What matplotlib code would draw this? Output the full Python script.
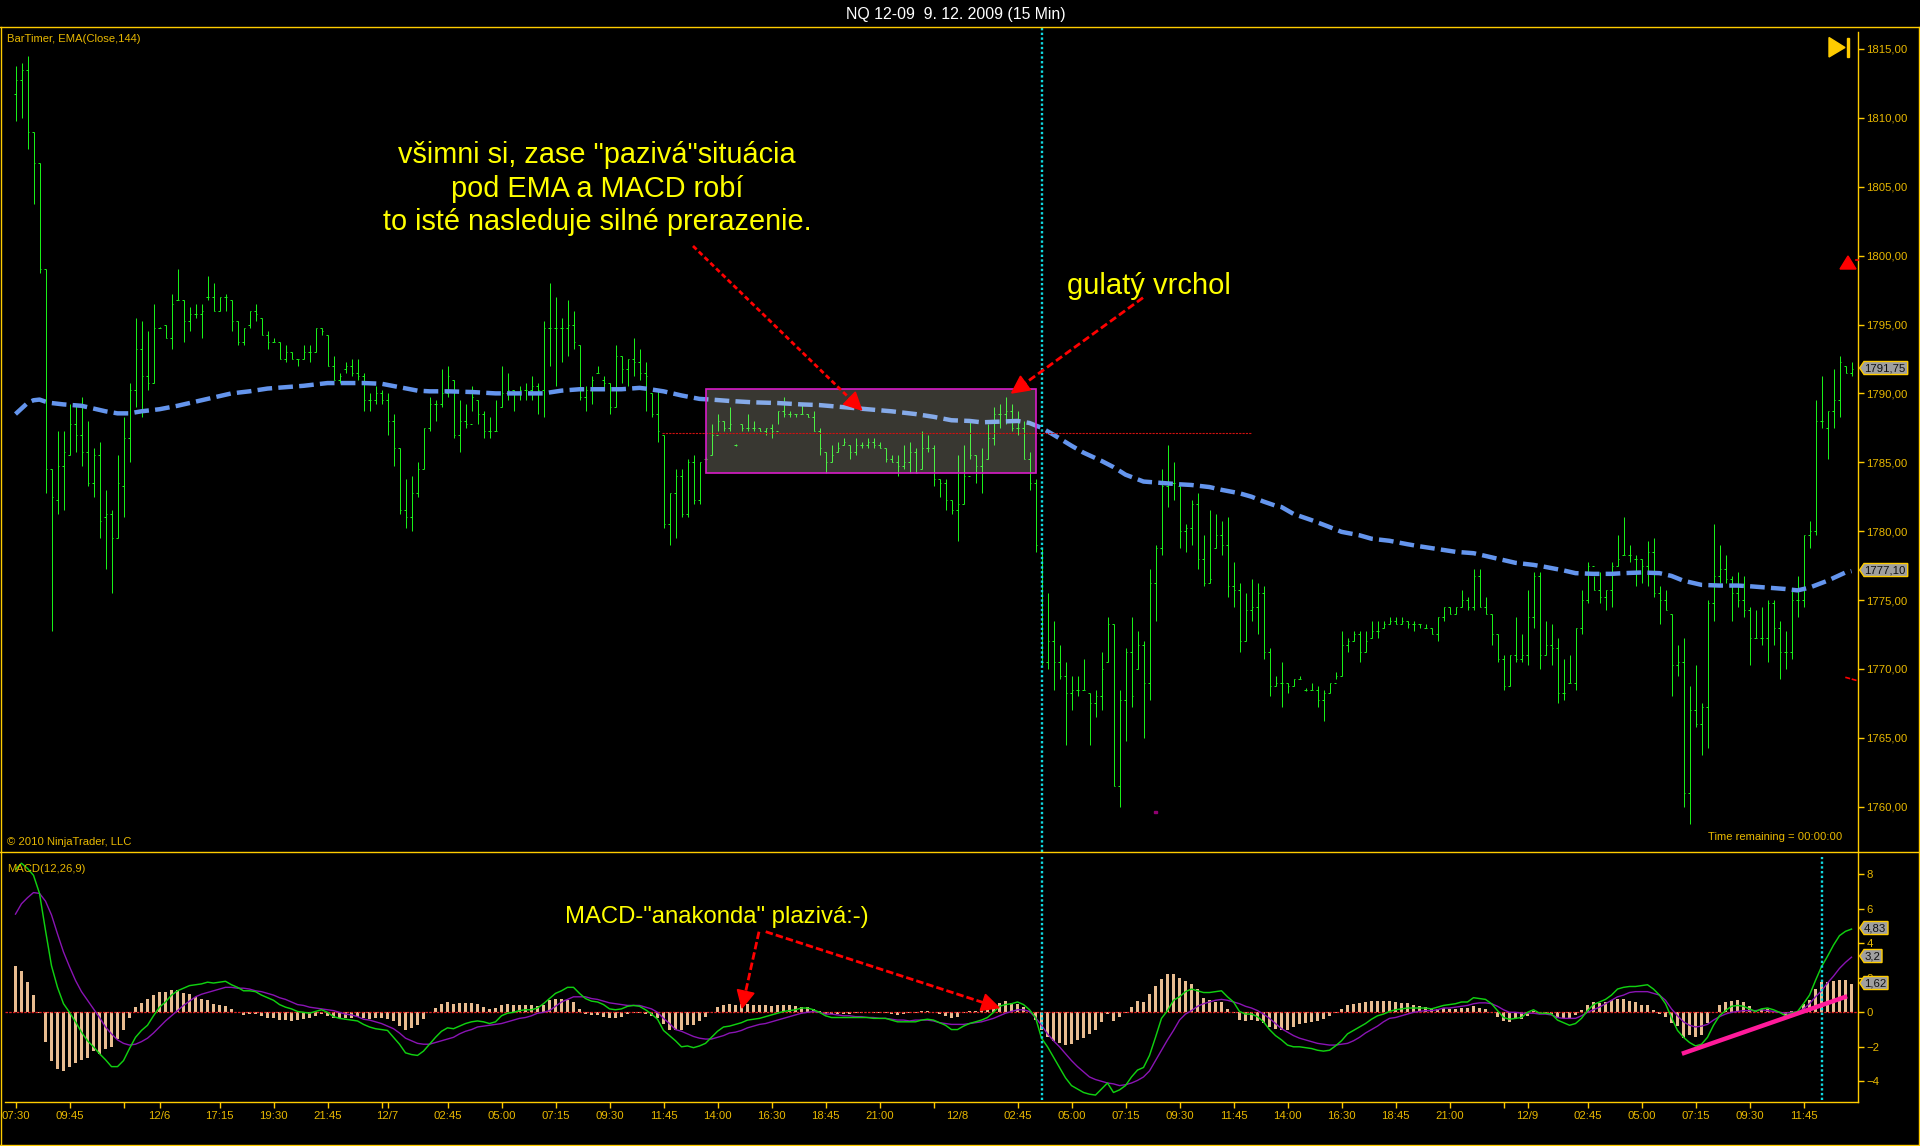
import matplotlib
matplotlib.use("Agg")
import matplotlib.pyplot as plt
from matplotlib.patches import Polygon, Rectangle
from matplotlib.lines import Line2D
import numpy as np

plt.rcParams['font.family'] = ['Liberation Sans', 'DejaVu Sans']

# ******** price bars, one per 15 min ********
highs = [
    1813.75,1814,1814.5,1809,1806.75,1799,1784.5,1787.25,1787.25,1789.25,
    1789.25,1789.75,1788,1786,1786.5,1783,1781.5,1785.5,1788.25,1790.75,
    1795.5,1795.25,1794.5,1796.5,1794.85,1795,1797.25,1799,1796.75,1796.25,
    1796.5,1796.5,1798.5,1798,1797,1797.25,1796.75,1795.25,1794.75,1796,
    1796.5,1795.5,1794.5,1794,1793.75,1793.5,1793,1792.5,1793.5,1793.5,
    1794.75,1794.75,1794.25,1792.75,1791.5,1792.25,1792.5,1792.5,1791.5,1790,
    1790.5,1790.25,1790,1788.5,1786,1783.75,1784,1785,1787.5,1789.75,
    1789.5,1791.75,1792,1791,1789.5,1789.25,1790.5,1789.5,1788.75,1788.25,
    1789.5,1792,1791.5,1790.25,1790.5,1790.75,1791.25,1790.75,1795.25,1798,
    1797,1795.5,1796.75,1796,1793.5,1790.5,1791.25,1792,1791.25,1790.75,
    1793.5,1792.75,1792.5,1794,1793.25,1792.25,1790,1790.25,1787,1782.75,
    1784.5,1784.5,1785.25,1785.5,1785,1785.35,1787.75,1788.5,1788,1789,
    1786.35,1787.75,1788.5,1788,1787.5,1787.5,1787.75,1788.75,1789.75,1788.75,
    1788.5,1789.25,1788.5,1788.75,1787.5,1785.75,1786.25,1786.5,1786.75,1786.25,
    1786.75,1786.5,1786.75,1786.75,1786.5,1786,1785.5,1785.5,1786.25,1786.5,
    1786,1787.25,1787,1786.25,1783.75,1783.75,1782.25,1785.5,1786.25,1788,
    1785.5,1786,1787.75,1789,1789.25,1789.75,1789.25,1788.75,1788,1785.75,
    1783.75,1778.75,1775.5,1773.5,1771.75,1770.5,1769.5,1769.5,1770.75,1768.25,
    1768.5,1771.25,1773.75,1773.25,1768.5,1771.5,1773.75,1772.75,1772,1777.25,
    1779,1784.5,1786.25,1785,1783.25,1780.5,1782.25,1782.75,1779.75,1781.5,
    1781.25,1780.75,1781,1777.75,1776.25,1775.5,1776.5,1776.25,1776,1771.5,
    1769.5,1770.5,1769,1769.25,1769.5,1768.6,1769,1768.75,1768.5,1769,
    1769.75,1772.75,1772.25,1772.75,1772.75,1772.75,1773.5,1773.5,1773.5,1773.75,
    1773.75,1773.75,1773.5,1773.5,1773.25,1773.25,1773,1773.75,1774.5,1774.5,
    1774.5,1775.75,1775.25,1777.25,1777.25,1775.25,1774,1772.5,1771,1771,
    1773.75,1772.5,1775.75,1777,1777,1773.5,1773.25,1772.25,1770.75,1771,
    1773,1775.75,1777.75,1776.75,1777,1775.75,1777.75,1779.75,1781,1779,
    1778.25,1778,1779.25,1779.5,1776,1775.75,1774,1771.75,1772.25,1768.75,
    1770.25,1767.5,1775,1780.5,1779,1778.25,1776.75,1777,1776.75,1774.5,
    1774.25,1774.5,1775,1775,1773.5,1772.75,1775.75,1776.75,1779.75,1780.75,
    1789.5,1791.25,1788.75,1791.75,1792.75,1792,1792.25,
]
lows = [
    1809.75,1810,1807.75,1803.75,1798.75,1782.75,1772.75,1781.25,1781.5,1785.5,
    1785.75,1784.75,1783.25,1782.5,1779.5,1777.25,1775.5,1779.5,1781,1785,
    1789,1788.25,1790.25,1790.75,1794.75,1794,1793.25,1796.75,1793.75,1794.5,
    1795.5,1794,1796.75,1796,1796,1796,1794.5,1793.5,1793.5,1794.75,
    1795.25,1794.25,1793.25,1793.75,1792.5,1792.25,1792.5,1792,1792.5,1792.25,
    1793,1794.25,1792,1791,1790.75,1791.5,1791.25,1791,1788.75,1788.75,
    1789.25,1789.25,1787,1784.75,1781.25,1780.25,1780,1782.5,1784.5,1787.25,
    1788,1789,1789.75,1786.75,1785.75,1787.5,1788.75,1787.75,1786.75,1786.75,
    1787.25,1789,1789.5,1788.75,1789.5,1789.5,1789.5,1788.5,1788.25,1792,
    1790.5,1792.25,1792.75,1793.25,1789.5,1788.75,1789.25,1791.5,1790.25,1788.5,
    1789,1790.75,1790.5,1791.25,1791,1788.75,1788.25,1786.5,1780.25,1779,
    1779.5,1781,1781,1782,1782,1785.15,1785.5,1787.25,1787.25,1787.25,
    1786.15,1787.25,1787.25,1787.25,1787.25,1787,1786.75,1787.75,1788.25,1788.25,
    1788.25,1788.5,1788.25,1787.25,1785.5,1784.25,1785,1785.75,1786.25,1785.25,
    1785.5,1786,1786,1786,1786,1785,1785,1784,1784.5,1784.25,
    1784.25,1784.5,1785.75,1783.25,1782.5,1781.5,1781.25,1779.25,1782,1785.25,
    1783.5,1782.75,1785.25,1786.25,1787.5,1787.75,1787.25,1787,1785.25,1783,
    1778.5,1770.25,1770,1768.5,1769.25,1764.5,1767,1768,1768.5,1764.5,
    1766.5,1767,1770.5,1761.5,1760,1764.75,1767.25,1770,1765,1767.75,
    1773.5,1778.25,1781.75,1782.25,1778.75,1778.5,1779,1777.25,1776,1776.25,
    1778.75,1778.25,1775.25,1774.5,1771.25,1772,1773.5,1772.5,1770.75,1768,
    1768.75,1767.25,1768.25,1768.75,1769.25,1768.4,1768.5,1767.25,1766.25,1768.25,
    1769.25,1769.5,1771.25,1772,1770.5,1771.25,1772.25,1772.25,1773,1773.25,
    1773.25,1773.25,1773,1772.75,1773,1773,1772.5,1772,1773.5,1774,
    1774,1774.5,1774.25,1774.25,1774.5,1774,1771.75,1770.5,1768.5,1768.75,
    1770.5,1770.5,1770.25,1773,1770,1771,1770.25,1767.5,1767.75,1769,
    1768.5,1772.5,1774.75,1775.75,1774.75,1774.25,1774.5,1777.5,1778.25,1777.75,
    1776,1776.25,1776,1775.25,1773.25,1774.25,1768,1769.5,1760,1758.75,
    1765.75,1763.75,1764.25,1773.5,1776.25,1776.25,1773.5,1774.5,1773.75,1770.25,
    1772.25,1771.75,1770.5,1771.75,1769.25,1770,1770.75,1773.75,1774.5,1778.75,
    1779.75,1787.5,1785.25,1787.5,1788.25,1791.5,1791.25,
]
closes = [
    1812.75,1813.5,1809,1806.75,1799,1784.5,1782.5,1784.75,1785.75,1787.75,
    1787,1785.75,1783.5,1785.5,1780.75,1781.25,1779.5,1783.5,1786.75,1790.25,
    1793.25,1791.25,1790.75,1794.75,1794.75,1794,1796.5,1796.75,1795.25,1795.75,
    1795.75,1796,1797,1796,1797,1797,1795.25,1793.75,1794.75,1796,
    1795.75,1794.25,1793.75,1793.75,1792.5,1793,1792.5,1792.5,1793,1793,
    1794.75,1794.5,1792,1791,1791.25,1792,1791.5,1791.25,1789.5,1789.5,
    1790,1789.5,1788,1786,1781.5,1781,1782.75,1784.5,1787.5,1789.25,
    1789.25,1790,1791.25,1787,1788,1787.75,1789.75,1788.5,1787.25,1787.25,
    1787.25,1790,1790.25,1790,1790.25,1790.25,1790.5,1790.25,1794.75,1794.75,
    1794.75,1794.75,1795,1793.75,1789.75,1790.25,1791,1791.5,1790.75,1789,
    1792.75,1791.75,1792.5,1792.25,1791.5,1791.25,1788.5,1787.25,1780.5,1782.75,
    1784,1781.25,1785,1782.25,1785,1785.25,1787,1788,1787.5,1787.75,
    1786.25,1787.5,1787.5,1787.5,1787.25,1787.5,1787.25,1788.75,1788.5,1788.5,
    1788.5,1788.5,1788.25,1787.25,1786,1785,1785.5,1786,1786.5,1785.75,
    1786.25,1786.25,1786.5,1786.25,1786,1785.25,1785,1784.75,1785,1785.75,
    1784.25,1786,1786,1783.75,1783.5,1782.25,1781.5,1782,1784,1785.5,
    1784.75,1784.25,1786.75,1788.5,1788.5,1788.75,1787.5,1787.5,1785.25,1783.5,
    1779,1770.5,1772,1770.5,1769.5,1768.25,1768.5,1768.5,1768.5,1767.5,
    1768,1770,1773.25,1761.5,1767.75,1771.25,1768,1771.75,1769,1776.25,
    1778.75,1783.25,1783.5,1783.5,1780,1780.25,1782,1778,1776.25,1776.5,
    1779.75,1779,1776,1775.75,1772,1774.25,1774.5,1775.5,1771.25,1768.75,
    1769,1769,1768.75,1769.25,1769.25,1768.5,1768.5,1767.75,1768.25,1769,
    1769.5,1771.75,1772,1772.5,1771.25,1772,1772.75,1772.75,1773.25,1773.5,
    1773.25,1773.5,1773.25,1773.25,1773.25,1773,1772.5,1773.75,1774.5,1774,
    1774.5,1775,1774.5,1776.75,1774.5,1774,1772.5,1770.75,1768.75,1771,
    1770.75,1771,1773.75,1776.75,1771,1771.75,1771.5,1768.25,1768.25,1769,
    1773,1775,1777.5,1775.75,1775.25,1775.75,1777.5,1778,1778.25,1778.25,
    1778,1777.5,1778.5,1775.5,1775,1774.25,1770.25,1770.5,1761,1767,
    1766,1767.25,1774.75,1776.75,1777.25,1776.5,1775.5,1775,1774.25,1772.25,
    1772.25,1772.25,1774.75,1773,1771.25,1771.25,1775,1775,1779.75,1780,
    1788,1788,1788.75,1789.5,1792.25,1791.5,1791.75,
]
opens = [
    1811.75,1812.75,1813.5,1809,1806.75,1799,1784.5,1782.25,1784.75,1785.5,
    1787.75,1787,1785.75,1783.5,1785.5,1781,1781.25,1779.5,1783.25,1786.75,
    1790.25,1793.25,1791.25,1790.75,1794.75,1795,1794,1796.75,1796.75,1795.25,
    1795.75,1795.75,1797,1797,1796,1797,1796.75,1795.25,1793.75,1795,
    1796,1795.5,1794.25,1793.75,1793.75,1792.5,1793,1792.5,1792.5,1793,
    1793,1794.75,1794.25,1792,1791,1791.75,1792,1791.5,1791.25,1789.5,
    1789.5,1790,1789.5,1788,1786,1781.5,1781,1782.75,1784.5,1787.5,
    1789.25,1789.25,1790,1791,1787,1788,1787.75,1789.5,1788.5,1787.25,
    1787.25,1789,1790,1790.25,1790,1790.25,1790.25,1790.5,1790.25,1794.75,
    1794.75,1794.75,1794.75,1795,1793.5,1789.75,1790.25,1791.5,1791,1790.75,
    1789,1792.75,1791.75,1792.5,1792.25,1791.5,1790,1788.5,1787,1780.5,
    1782.75,1784,1781.25,1785,1782.25,1785.25,1785.5,1787,1788,1787.5,
    1786.25,1787.75,1787.5,1787.5,1787.5,1787.25,1787.5,1787.25,1788.75,1788.5,
    1788.5,1788.5,1788.5,1788.25,1787.25,1785.75,1785,1785.75,1786.25,1786.25,
    1785.75,1786.25,1786.25,1786.5,1786.25,1786,1785.25,1785,1784.75,1785,
    1785.75,1784.5,1786,1786,1783.75,1783.5,1782.25,1781.5,1782,1784,
    1785.5,1784.75,1785.25,1786.75,1788.5,1788.5,1788.75,1787.5,1787.5,1785.25,
    1783.5,1778.75,1770.5,1772,1770.5,1769.5,1768.25,1768.5,1768.5,1768.25,
    1767.5,1768,1770.5,1773.25,1761.5,1767.75,1771.25,1770,1771.75,1769,
    1776.25,1778.75,1783.25,1783.5,1783.25,1780,1780.25,1782,1778,1776.25,
    1778.75,1779.75,1779,1776,1775.75,1772,1774.25,1774.5,1775.5,1771.25,
    1768.75,1769,1769,1768.75,1769.25,1768.5,1768.5,1768.5,1767.75,1768.25,
    1769,1769.5,1771.75,1772,1772.5,1771.25,1772.25,1772.75,1773,1773.25,
    1773.5,1773.25,1773.5,1773.25,1773.25,1773,1773,1772.5,1773.75,1774.5,
    1774,1774.5,1775,1774.5,1776.75,1774.5,1774,1772.5,1770.75,1768.75,
    1771,1770.75,1771,1773.75,1776.75,1771,1771.75,1771.5,1768.25,1769,
    1769,1773,1775,1777.5,1775.75,1775.25,1775.75,1777.5,1778.25,1778.25,
    1778,1778,1777.5,1778.5,1775.5,1775,1774,1770.25,1770.5,1761,
    1767,1766,1767.25,1774.75,1776.75,1777.25,1776.5,1775.5,1775,1774.25,
    1772.25,1772.25,1772.25,1774.75,1773,1771.25,1771.25,1775,1775,1779.75,
    1780,1788,1787.5,1788.75,1789.5,1792,1791.5,
]

# EMA(Close,144) read at these bars
ema_bars = [0,1,2,3,4,5,6,8,11,13,15,17,19,21,24,27,30,33,36,39,42,45,48,52,55,58,61,64,67,69,72,76,80,83,88,91,94,98,101,104,
            105,108,111,114,116,119,123,127,131,134,138,142,146,150,153,156,159,161,164,167,169,171,173,176,178,181,183,185,188,191,
            194,196,199,201,204,206,208,210,211,213,216,219,221,224,226,229,232,234,237,240,243,245,248,250,253,255,258,260,263,266,
            268,271,274,276,278,281,284,287,289,292,295,297,299,302,305,306]
ema_vals = [1788.5,1788.9,1789.3,1789.5,1789.55,1789.4,1789.3,1789.2,1789.1,1788.9,1788.7,1788.55,1788.55,1788.7,1788.85,1789.1,1789.4,1789.7,1790,1790.15,
            1790.35,1790.45,1790.55,1790.75,1790.75,1790.75,1790.7,1790.45,1790.2,1790.15,1790.15,1790.1,1790,1790,1790,1790.2,1790.3,1790.3,1790.3,1790.4,
            1790.35,1790.15,1789.85,1789.6,1789.55,1789.45,1789.35,1789.3,1789.2,1789.15,1789,1788.85,1788.7,1788.5,1788.3,1788.05,1788,1787.9,1787.95,1788,
            1787.85,1787.5,1787,1786.2,1785.7,1785.1,1784.65,1784.1,1783.6,1783.5,1783.4,1783.35,1783.2,1783,1782.75,1782.5,1782.15,1781.85,1781.75,1781.25,
            1780.8,1780.3,1779.95,1779.7,1779.45,1779.3,1779.05,1778.9,1778.7,1778.5,1778.4,1778.2,1777.9,1777.7,1777.55,1777.4,1777.15,1776.95,1776.9,1776.9,
            1776.95,1777,1776.95,1776.75,1776.4,1776.1,1776.05,1776.05,1776,1775.9,1775.8,1775.7,1775.9,1776.4,1777,1777.1]

# ******** MACD(12,26,9) ********
macd = [
    8.3,8.65,8.35,7.95,6.9,4.75,2.7,1.45,.5,0,
    -.55,-1.15,-1.65,-2,-2.4,-2.75,-3.15,-3.15,-2.8,-2.1,
    -1.45,-1.05,-.75,-.2,.3,.6,1,1.25,1.4,1.55,
    1.6,1.65,1.75,1.7,1.75,1.8,1.6,1.45,1.25,1.25,
    1.2,1,.85,.7,.45,.3,.2,.05,0,-.05,
    .05,.15,0,-.25,-.35,-.4,-.45,-.5,-.7,-.85,
    -.95,-1,-1.05,-1.45,-1.85,-2.35,-2.45,-2.5,-2.25,-1.85,
    -1.45,-1.1,-.9,-.95,-.8,-.65,-.55,-.5,-.55,-.65,
    -.55,-.2,-.05,0,.1,.15,.15,.25,.5,.8,
    1.1,1.25,1.45,1.45,1.1,.8,.65,.6,.45,.2,
    .15,.2,.35,.4,.35,.15,-.1,-.4,-1.05,-1.35,
    -1.65,-2,-1.95,-2.05,-1.95,-1.8,-1.45,-1.1,-.85,-.8,
    -.7,-.6,-.45,-.4,-.35,-.25,-.15,-.05,.05,.1,
    .15,.25,.25,.15,0,-.2,-.3,-.3,-.3,-.3,
    -.3,-.3,-.3,-.35,-.35,-.35,-.45,-.55,-.55,-.55,
    -.55,-.45,-.4,-.45,-.6,-.75,-1,-1,-.8,-.65,
    -.55,-.45,-.3,0,.35,.45,.5,.6,.45,.15,
    -.3,-1.5,-2,-2.6,-3.2,-3.8,-4.25,-4.45,-4.65,-4.75,
    -4.8,-4.45,-4.1,-4.65,-4.5,-4.25,-3.75,-3.35,-3.2,-2.5,
    -1.45,-.35,.1,.7,.9,1.2,1.35,1.25,1.15,1.15,
    1.2,1.25,.9,.6,.05,-.1,-.1,-.25,-.55,-1,
    -1.35,-1.6,-1.9,-2,-2,-2.05,-2.1,-2.2,-2.25,-2.2,
    -1.95,-1.65,-1.25,-1.05,-.85,-.65,-.4,-.2,-.1,.05,
    .15,.2,.25,.25,.25,.25,.2,.3,.4,.45,
    .5,.6,.6,.85,.8,.75,.5,.1,-.3,-.4,
    -.35,-.3,0,.15,-.05,-.05,-.1,-.45,-.6,-.75,
    -.65,-.35,.1,.45,.6,.75,1,1.35,1.45,1.5,
    1.5,1.55,1.6,1.35,1,.5,-.3,-1.05,-1.45,-1.75,
    -1.95,-1.85,-1.45,-.75,-.2,.1,.35,.4,.35,.2,
    .05,.2,.25,.15,0,-.2,-.05,.05,.5,1,
    1.85,2.65,3.25,3.9,4.45,4.7,4.83,
]
signal = [
    5.7,6.3,6.65,6.95,6.9,6.45,5.65,4.55,3.5,2.65,
    1.85,1.2,.7,.2,-.3,-.85,-1.25,-1.6,-1.8,-1.9,
    -1.85,-1.7,-1.5,-1.2,-.85,-.5,-.2,.1,.4,.65,
    .9,1.05,1.15,1.25,1.35,1.45,1.45,1.4,1.4,1.35,
    1.25,1.2,1.1,1,.85,.75,.6,.45,.4,.3,
    .25,.2,.15,.1,0,-.1,-.15,-.25,-.4,-.45,
    -.55,-.65,-.8,-.95,-1.2,-1.5,-1.65,-1.8,-1.85,-1.85,
    -1.75,-1.65,-1.55,-1.45,-1.25,-1.1,-1,-.85,-.8,-.75,
    -.7,-.65,-.55,-.45,-.35,-.3,-.2,-.05,0,.1,
    .35,.6,.75,.9,.9,.9,.8,.75,.65,.55,
    .5,.45,.4,.4,.4,.3,.2,0,-.35,-.65,
    -1,-1.1,-1.25,-1.4,-1.5,-1.55,-1.55,-1.45,-1.35,-1.2,
    -1.15,-1.05,-.9,-.8,-.7,-.65,-.55,-.45,-.35,-.25,
    -.15,-.05,0,.05,0,-.1,-.1,-.15,-.2,-.2,
    -.25,-.25,-.3,-.3,-.35,-.35,-.4,-.45,-.45,-.5,
    -.45,-.45,-.45,-.5,-.6,-.65,-.7,-.7,-.7,-.65,
    -.6,-.55,-.45,-.35,-.2,-.05,.05,.15,.15,.05,
    -.3,-.75,-1.25,-1.65,-2,-2.4,-2.8,-3.15,-3.45,-3.75,
    -3.9,-4,-4.1,-4.15,-4.25,-4.2,-4.1,-3.95,-3.75,-3.4,
    -2.8,-2.2,-1.6,-1.05,-.45,-.1,.1,.35,.5,.6,
    .7,.75,.7,.6,.5,.35,.25,.1,-.1,-.35,
    -.65,-.95,-1.15,-1.35,-1.5,-1.6,-1.7,-1.8,-1.85,-1.9,
    -1.9,-1.85,-1.8,-1.65,-1.45,-1.2,-1,-.8,-.55,-.35,
    -.3,-.2,-.1,0,.05,.1,.1,.15,.25,.25,
    .3,.35,.4,.5,.55,.55,.5,.35,.15,0,
    0,-.05,-.05,-.05,-.1,-.1,-.15,-.3,-.35,-.35,
    -.35,-.2,0,.15,.3,.5,.7,.9,1,1.15,
    1.2,1.2,1.2,1.1,1,.7,.2,-.2,-.55,-.75,
    -.85,-.8,-.7,-.45,-.25,-.1,0,.05,.1,.1,
    .1,.15,.1,.05,0,-.05,0,0,.2,.5,
    .9,1.25,1.7,2.1,2.55,2.9,3.2,
]
hist = [
    2.7,2.4,1.75,1,-.05,-1.7,-2.85,-3.3,-3.4,-3.15,
    -2.95,-2.75,-2.65,-2.25,-2.4,-2.1,-2,-1.55,-1,-.3,
    .3,.55,.75,1,1.2,1.2,1.3,1.3,1.15,1.05,
    .9,.8,.7,.5,.45,.35,.2,.03,-.15,-.1,
    -.1,-.2,-.3,-.35,-.45,-.45,-.5,-.45,-.4,-.35,
    -.2,-.1,-.2,-.3,-.35,-.3,-.3,-.25,-.35,-.4,
    -.35,-.35,-.4,-.5,-.8,-1,-.9,-.75,-.4,0,
    .25,.5,.6,.5,.55,.55,.55,.5,.3,.2,
    .25,.45,.5,.45,.45,.45,.4,.35,.45,.7,
    .75,.75,.7,.6,.2,-.1,-.15,-.15,-.25,-.3,
    -.3,-.25,-.1,-.05,-.05,-.1,-.2,-.35,-.65,-1.05,
    -1.05,-1.05,-.75,-.75,-.5,-.25,0,.3,.4,.5,
    .45,.47,.5,.45,.43,.43,.38,.43,.43,.42,
    .35,.32,.32,.2,.05,-.1,-.1,-.1,-.1,-.1,
    -.05,-.03,.01,-.03,-.03,-.05,-.07,-.15,-.1,-.05,
    -.05,.05,.05,.02,-.12,-.2,-.3,-.25,-.05,.05,
    .1,.2,.3,.4,.55,.65,.55,.5,.3,.05,
    -.45,-1,-1.45,-1.65,-1.8,-1.9,-1.85,-1.6,-1.5,-1.25,
    -1,-.55,-.1,-.5,-.25,-.05,.3,.65,.6,1.05,
    1.5,1.95,2.25,2.25,2,1.8,1.65,1.35,.85,.7,
    .6,.6,.2,-.05,-.45,-.5,-.45,-.5,-.6,-.85,
    -.95,-1.05,-1,-.85,-.7,-.6,-.55,-.5,-.4,-.2,
    -.02,.2,.4,.5,.55,.6,.65,.65,.65,.65,
    .6,.55,.52,.42,.35,.3,.2,.2,.25,.2,
    .2,.25,.25,.35,.25,.2,0,-.25,-.5,-.55,
    -.4,-.4,-.2,.1,0,-.02,-.1,-.3,-.35,-.4,
    -.15,.15,.42,.58,.55,.62,.7,.78,.78,.65,
    .6,.45,.42,.12,-.08,-.25,-.6,-.8,-1.5,-1.3,
    -1.45,-1.3,-.6,.02,.45,.6,.65,.72,.6,.35,
    .15,.2,.18,.1,.02,-.25,.05,.1,.5,.72,
    1.35,1.75,1.75,1.8,1.9,1.85,1.62,
]

# ******** axis labels ********
time_ticks = [0,9,18,24,34,43,52,61,62,72,81,90,99,108,117,126,135,144,153,167,176,185,194,203,212,221,230,239,248,252,262,271,280,289,298]
time_labels = ['07:30','09:45','','12/6','17:15','19:30','21:45','','12/7','02:45','05:00','07:15','09:30','11:45','14:00','16:30','18:45','21:00','',
               '02:45','05:00','07:15','09:30','11:45','14:00','16:30','18:45','21:00','','12/9','02:45','05:00','07:15','09:30','11:45']
price_ticks = [1760,1765,1770,1775,1780,1785,1790,1795,1800,1805,1810,1815]
macd_ticks = [-4,-2,0,2,4,6,8]

gold = '#ffcc00'
text_gold = '#e8b800'
green = '#18f018'

x = np.arange(len(closes))

# panels placed in pixels of the 1920x1146 picture
W, H = 1920, 1146
def panel(left, top, right, bottom):
    return fig.add_axes([left / W, 1 - bottom / H, (right - left) / W, (bottom - top) / H], facecolor='black')

fig = plt.figure(figsize=(19.2, 11.46), dpi=100, facecolor='black')
ax = panel(1, 27.3, 1858.4, 851.7)
ax2 = panel(1, 851.7, 1858.4, 1102.3)

# ******** price panel ********
bars = ax.vlines(x, lows, highs, color=green, lw=0.72, zorder=2)
bars.set_snap(True)
ax.hlines(opens, x - 0.33, x, color=green, lw=0.72, zorder=2).set_snap(True)
ax.hlines(closes, x, x + 0.33, color=green, lw=0.72, zorder=2).set_snap(True)
ax.plot(ema_bars, ema_vals, color='#6495ed', lw=3.2, dashes=(3.3, 1.4), dash_capstyle='butt', zorder=3)
ax.plot([107.75, 206], [1787.1, 1787.1], color='#d01010', lw=0.8, ls=(0, (2, 1)), zorder=5)
ax.add_patch(Rectangle((115, 1784.2), 55, 6.1, facecolor='#f5f0d8', alpha=0.23, edgecolor='none', zorder=4))
ax.add_patch(Rectangle((115, 1784.2), 55, 6.1, fill=False, edgecolor='#d81cc8', lw=1.2, zorder=5))
ax.axvline(171, color='#10d8e0', lw=1.7, ls=(0, (1, 1)), zorder=6)

ax.set_xlim(-2.417, 307.15)
ax.set_ylim(1756.73, 1816.575)
ax.set_yticks(price_ticks)
ax.set_yticklabels([f'{p},00' for p in price_ticks])
ax.set_xticks([])

# ******** MACD panel ********
ax2.bar(x, hist, width=0.36, color='#e8bc90', zorder=2)
ax2.plot([-1.75, 307], [0, 0], color='#e02020', lw=0.9, ls=(0, (2, 1)), zorder=3)
ax2.plot(x, signal, color='#8a14b4', lw=1.0, zorder=4)
ax2.plot(x, macd, color='#10d010', lw=1.05, zorder=5)
ax2.axvline(171, ymin=0.01, ymax=0.98, color='#10d8e0', lw=1.7, ls=(0, (1, 1)), zorder=6)
ax2.axvline(301, ymin=0.01, ymax=0.98, color='#10d8e0', lw=1.7, ls=(0, (1, 1)), zorder=6)

ax2.set_xlim(-2.417, 307.15)
ax2.set_ylim(-5.22, 9.32)
ax2.set_yticks(macd_ticks)
ax2.set_xticks(time_ticks)
ax2.set_xticklabels(time_labels)
ax2.text(157, -6.0, '12/8', color=text_gold, fontsize=8.2, ha='center', va='center', clip_on=False)

for a in (ax, ax2):
    for s in a.spines.values():
        s.set_visible(False)
    a.yaxis.tick_right()
    a.tick_params(axis='y', colors=gold, labelcolor=text_gold, length=4.3, width=1, pad=1.5, labelsize=8.2)
    a.tick_params(axis='x', colors=gold, labelcolor=text_gold, length=4.3, width=1, pad=2, labelsize=8.2)

# ******** frame, notes and arrows in picture pixels ********
ov = fig.add_axes([0, 0, 1, 1], facecolor='none')
ov.set_xlim(0, W)
ov.set_ylim(H, 0)
ov.axis('off')

for xs, ys in [((0, W), (27.3, 27.3)), ((0, W), (851.7, 851.7)), ((0, W), (1145, 1145)), ((1, 1), (27.3, 1146)),
               ((1919, 1919), (27.3, 1146)), ((1858.4, 1858.4), (32, 1102.3)), ((5, 1858.4), (1102.3, 1102.3))]:
    ov.add_line(Line2D(xs, ys, color=gold, lw=1.0))

ov.text(956, 15, 'NQ 12-09  9. 12. 2009 (15 Min)', color='white', fontsize=11.4, ha='center', va='center')
ov.text(7, 39, 'BarTimer, EMA(Close,144)', color=text_gold, fontsize=8.1, va='center')
ov.text(7, 842, '© 2010 NinjaTrader, LLC', color=text_gold, fontsize=8.1, va='center')
ov.text(1842, 837, 'Time remaining = 00:00:00', color=text_gold, fontsize=8.1, ha='right', va='center')
ov.text(7, 869, 'MACD(12,26,9)', color=text_gold, fontsize=8.1, va='center')

note = dict(color='#ffff00', ha='center', va='center')
ov.text(597, 155, 'všimni si, zase "pazivá"situácia', fontsize=20.8, **note)
ov.text(597, 189, 'pod EMA a MACD robí', fontsize=20.8, **note)
ov.text(597, 222, 'to isté nasleduje silné prerazenie.', fontsize=20.8, **note)
ov.text(1149, 286, 'gulatý vrchol', fontsize=21, **note)
ov.text(717, 917, 'MACD-"anakonda" plazivá:-)', fontsize=17.2, **note)

def red_arrow(x0, y0, x1, y1, dash):
    d = np.array([x1 - x0, y1 - y0], dtype=float)
    d /= np.hypot(*d)
    n = np.array([-d[1], d[0]])
    tip = np.array([x1, y1])
    base = tip - d * 17
    ov.plot([x0, base[0]], [y0, base[1]], color='#ff0000', lw=2.0, ls=(0, dash), zorder=8)
    ov.add_patch(Polygon([tip, base + n * 8.5, base - n * 8.5], color='#ff0000', zorder=8))

red_arrow(693, 246, 861.6, 410, (1.8, 1.1))
red_arrow(1143, 297.7, 1011.7, 393, (2.7, 1.3))
red_arrow(759, 931.7, 742, 1008, (2.7, 1.1))
red_arrow(765.7, 931.7, 999, 1007.7, (2.7, 1.1))

ov.plot([1684, 1845], [1053, 997], color='#ff1a9a', lw=3.2, zorder=8)
ov.add_patch(Polygon([(1848, 256), (1840, 269), (1856, 269)], color='#ff0000', zorder=8))
ov.plot([1856, 1858], [260, 260], color='#ff0000', lw=1.2)
ov.plot([1845.3, 1857.5], [677.3, 680.7], color='#ff0000', lw=1.2, ls=(0, (3, 1)))
ov.add_patch(Rectangle((1154, 811), 2.5, 2, color='#900070'))

# play icon of the chart trader
ov.add_patch(Polygon([(1829, 37.5), (1829, 57), (1845, 47.5)], color=gold))
ov.add_patch(Rectangle((1846.5, 37.5), 2.5, 19.5, color=gold))

def tag(y, right, label):
    pts = [(1859.6, y), (1864, y - 6.5), (right, y - 6.5), (right, y + 6.5), (1864, y + 6.5)]
    ov.add_patch(Polygon(pts, facecolor='#a0a0a0', edgecolor=gold, lw=1.0, zorder=9))
    ov.text(right - 2, y + 0.3, label, color='#101010', fontsize=8.2, ha='right', va='center', zorder=10)

tag(368, 1907.7, '1791,75')
tag(570, 1907.7, '1777,10')
tag(928, 1888, '4,83')
tag(956, 1882, '3,2')
tag(983, 1888, '1,62')

fig.savefig('out.png', dpi=100, facecolor='black')
